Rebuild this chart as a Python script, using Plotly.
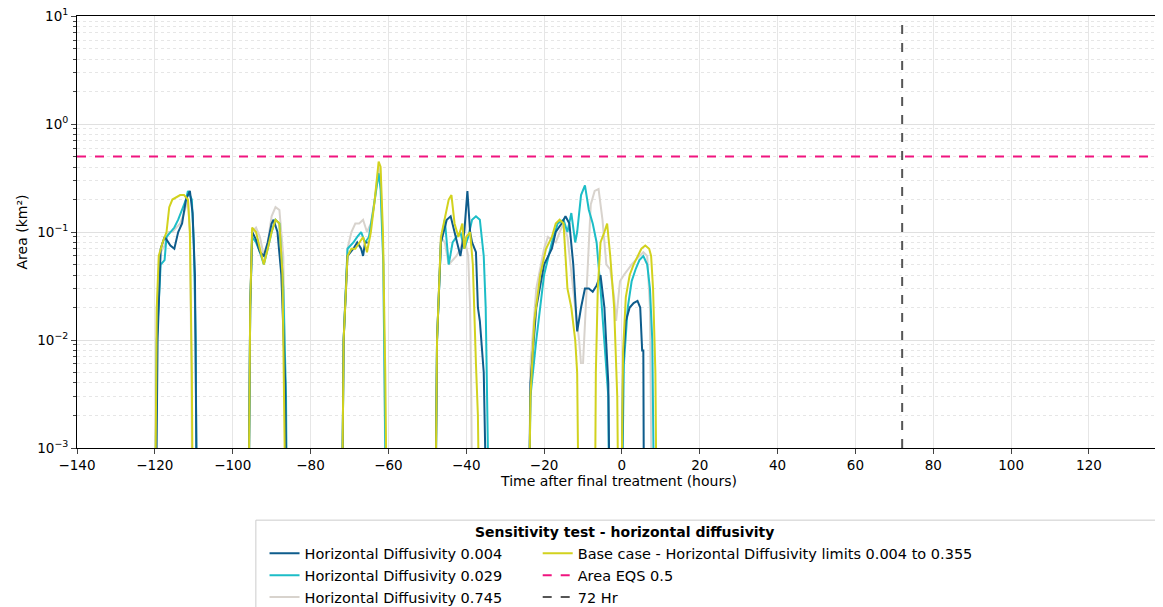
import plotly.graph_objects as go

LOW = 1e-4  # below the axis floor, so lines run off the bottom

# Horizontal diffusivity 0.004
t_004 = [-119.8, -119.3, -118.5, -117.5, -117, -116, -115, -114, -113, -112, -111, -110.3, -109.7, -109.4, -109.1, None,
         -96, -95.5, -95, -94, -93, -92, -91, -90, -89.5, -88.5, -87.5, -86.5, -86, None,
         -72, -71.5, -70.5, -69, -68, -67, -66.5, -66, -65.3, None,
         -48, -47.5, -46.5, -45, -44, -43, -42, -41.5, -40.5, -39.7, -39, -38.5, -37.5, -37, -36.5, -35.5, -34.6, None,
         -24, -23.5, -22, -20, -18, -17, -15.5, -14.5, -13.5, -12.5, -11.5, -10.5, -9.5, -8.5, -7.5, -6.5, -5.5, -4.5, -3.5, -3, None,
         -0.2, 0.3, 1, 2, 3, 4, 4.7, 5.2, 5.5, 5.7]
a_004 = [LOW, 0.01, 0.07, 0.09, 0.085, 0.075, 0.07, 0.1, 0.12, 0.2, 0.24, 0.15, 0.04, 0.005, LOW, None,
         LOW, 0.02, 0.1, 0.085, 0.065, 0.06, 0.08, 0.12, 0.13, 0.1, 0.04, 0.004, LOW, None,
         LOW, 0.01, 0.06, 0.07, 0.08, 0.07, 0.06, 0.08, 0.08, None,
         LOW, 0.01, 0.08, 0.13, 0.14, 0.1, 0.07, 0.06, 0.1, 0.24, 0.1, 0.08, 0.065, 0.02, 0.015, 0.005, LOW, None,
         LOW, 0.004, 0.02, 0.05, 0.07, 0.1, 0.12, 0.14, 0.12, 0.05, 0.012, 0.02, 0.03, 0.03, 0.028, 0.032, 0.04, 0.02, 0.004, LOW, None,
         LOW, 0.006, 0.015, 0.02, 0.022, 0.023, 0.02, 0.008, 0.008, LOW]

# Horizontal diffusivity 0.029
t_029 = [-120, -119.5, -118.5, -117.5, -117, -116, -115, -114, -113, -112, -111.5, -110.5, -110, -109.5, -109.2, None,
         -96, -95.5, -95, -94, -93, -92, -91, -90, -89, -88, -87, -86.3, -86, None,
         -72, -71.5, -70.5, -69, -68, -67, -66, -65, -64, -63, -62.5, -62, -61.3, -60.5, None,
         -48, -47.5, -46.5, -45.5, -44.5, -43.5, -42.5, -41.5, -40.5, -39.5, -38.5, -37.5, -36.5, -35.5, -35, -34.5, -34, None,
         -24, -23.5, -22, -20, -18, -16.5, -15, -14, -13, -12, -11.5, -10.5, -9.5, -8.5, -7.5, -6.5, -5.5, -4.5, -3.5, -3.2, None,
         -0.2, 0.5, 1.5, 2.5, 3.5, 4.5, 5.5, 6.5, 7.2, 7.8, 8.4]
a_029 = [LOW, 0.01, 0.05, 0.055, 0.09, 0.1, 0.11, 0.13, 0.16, 0.2, 0.24, 0.2, 0.08, 0.01, LOW, None,
         LOW, 0.02, 0.09, 0.08, 0.065, 0.05, 0.07, 0.1, 0.13, 0.12, 0.03, 0.003, LOW, None,
         LOW, 0.01, 0.07, 0.08, 0.09, 0.1, 0.08, 0.09, 0.15, 0.25, 0.35, 0.25, 0.05, LOW, None,
         LOW, 0.01, 0.08, 0.13, 0.05, 0.08, 0.09, 0.1, 0.07, 0.09, 0.13, 0.14, 0.13, 0.06, 0.02, 0.003, LOW, None,
         LOW, 0.003, 0.01, 0.04, 0.08, 0.12, 0.13, 0.1, 0.15, 0.08, 0.1, 0.22, 0.27, 0.16, 0.12, 0.08, 0.03, 0.01, 0.003, LOW, None,
         LOW, 0.006, 0.02, 0.035, 0.045, 0.055, 0.06, 0.05, 0.03, 0.01, LOW]

# Horizontal diffusivity 0.745
t_745 = [-120, -119.5, -118.5, -117.5, -116.5, -115.5, -114.5, -113.5, -112.5, -111.5, -111, -110.6, -110.3, None,
         -96, -95.5, -95, -94, -93, -92, -91, -90, -89, -88, -87, -86.3, -85.8, None,
         -72, -71.5, -70.5, -69.5, -68.5, -67.5, -66.5, -65.5, -64.5, -63.5, -62.5, -62, -61.3, -60.6, None,
         -48, -47.5, -46.5, -45.5, -44.5, -43.5, -42.5, -41.5, -40.5, -39.5, -39, -38.7, -38.4, None,
         -24, -23.5, -22, -20, -19, -18, -17, -16, -15, -14, -13, -12, -11, -10.5, None,
         -10, -9, -8, -7, -6, -5, -4, -3, -2, -1.5, -0.5, 0.5, 1.5, 2.5, 3.5, 4.5, 5.5, 6.5, 7.2, 7.8]
a_745 = [LOW, 0.02, 0.065, 0.075, 0.1, 0.1, 0.11, 0.12, 0.15, 0.2, 0.1, 0.005, LOW, None,
         LOW, 0.02, 0.1, 0.11, 0.09, 0.06, 0.08, 0.14, 0.17, 0.16, 0.06, 0.004, LOW, None,
         LOW, 0.01, 0.07, 0.1, 0.12, 0.12, 0.13, 0.1, 0.12, 0.2, 0.4, 0.3, 0.06, LOW, None,
         LOW, 0.01, 0.09, 0.08, 0.05, 0.055, 0.06, 0.07, 0.09, 0.06, 0.02, 0.003, LOW, None,
         LOW, 0.006, 0.03, 0.07, 0.09, 0.085, 0.08, 0.1, 0.12, 0.09, 0.04, 0.02, 0.01, 0.006, None,
         0.006, 0.03, 0.18, 0.24, 0.25, 0.13, 0.05, 0.045, 0.025, 0.015, 0.035, 0.04, 0.045, 0.05, 0.055, 0.06, 0.065, 0.06, 0.02, LOW]

# Base case - limits 0.004 to 0.355
t_base = [-120, -119.5, -119, -118, -117, -116.3, -115.5, -114.5, -113.5, -112.5, -111.5, -111, -110.5, -110.2, None,
          -96, -95.5, -95, -94, -93, -92, -91, -90, -89, -88, -87.2, -86.6, -86.3, None,
          -72, -71.5, -70.5, -69.5, -68.5, -67.5, -66.5, -65.5, -64.5, -63.5, -62.5, -62, -61.4, -60.8, -60.3, None,
          -48, -47.5, -46.5, -45.5, -44.5, -43.8, -43, -42, -41, -40.5, -40, -39, -38.3, -37.5, -37, -36.5, -36.1, None,
          -24, -23.5, -22.5, -21, -19.5, -18, -17, -16, -15, -14, -13, -12, -11.5, -11, None,
          -7, -6.7, -6.2, -5.5, -4.5, -3.8, -3, -2, -1.2, -0.8, None,
          -0.3, 0.3, 1, 2, 3, 4, 5, 6, 7, 7.5, 8, 8.6, 9]
a_base = [LOW, 0.02, 0.06, 0.08, 0.1, 0.17, 0.2, 0.21, 0.22, 0.22, 0.2, 0.1, 0.005, LOW, None,
          LOW, 0.02, 0.11, 0.1, 0.07, 0.05, 0.07, 0.1, 0.13, 0.12, 0.04, 0.003, LOW, None,
          LOW, 0.01, 0.06, 0.07, 0.07, 0.08, 0.09, 0.065, 0.1, 0.2, 0.45, 0.4, 0.1, 0.005, LOW, None,
          LOW, 0.01, 0.09, 0.14, 0.2, 0.22, 0.12, 0.09, 0.12, 0.07, 0.09, 0.1, 0.05, 0.006, 0.002, LOW, LOW, None,
          LOW, 0.003, 0.015, 0.04, 0.07, 0.09, 0.12, 0.13, 0.12, 0.03, 0.02, 0.01, 0.005, LOW, None,
          LOW, 0.005, 0.03, 0.08, 0.1, 0.12, 0.06, 0.02, 0.003, LOW, None,
          LOW, 0.008, 0.025, 0.04, 0.05, 0.06, 0.07, 0.075, 0.07, 0.06, 0.03, 0.005, LOW]

x_range = [-140, 138.5]
eqs_level = 0.5
hr_72 = 72
y_tickvals = [1e-3, 1e-2, 1e-1, 1, 10]
y_ticktext = ['10<sup>−3</sup>', '10<sup>−2</sup>', '10<sup>−1</sup>', '10<sup>0</sup>', '10<sup>1</sup>']
y_minor = [m * d for d in [1e-3, 1e-2, 1e-1, 1] for m in range(2, 10)]

fig = go.Figure()
# draw order: grey, teal, dark blue, yellow on top
fig.add_trace(go.Scatter(x=t_745, y=a_745, mode='lines', name='Horizontal Diffusivity 0.745',
                         legend='legend', legendrank=3, line=dict(color='#d8d3cd', width=2)))
fig.add_trace(go.Scatter(x=t_029, y=a_029, mode='lines', name='Horizontal Diffusivity 0.029',
                         legend='legend', legendrank=2, line=dict(color='#1cbdc7', width=2)))
fig.add_trace(go.Scatter(x=t_004, y=a_004, mode='lines', name='Horizontal Diffusivity 0.004',
                         legend='legend', legendrank=1, line=dict(color='#0e5c8c', width=2)))
fig.add_trace(go.Scatter(x=t_base, y=a_base, mode='lines',
                         name='Base case - Horizontal Diffusivity limits 0.004 to 0.355',
                         legend='legend2', legendrank=1, line=dict(color='#d2d21e', width=2)))
fig.add_trace(go.Scatter(x=x_range, y=[eqs_level, eqs_level], mode='lines', name='Area EQS 0.5',
                         legend='legend2', legendrank=2, line=dict(color='#f0147f', width=2, dash='dash')))
fig.add_trace(go.Scatter(x=[hr_72, hr_72], y=[1e-3, 10], mode='lines', name='72 Hr',
                         legend='legend2', legendrank=3, line=dict(color='#555555', width=2, dash='dash')))

leg = dict(yanchor='top', y=-0.207, bgcolor='rgba(0,0,0,0)', font=dict(size=14.5), tracegroupgap=0)
fig.update_layout(
    width=1163, height=607,
    margin=dict(l=69, r=10, t=8, b=167, autoexpand=False),
    plot_bgcolor='white', paper_bgcolor='white',
    font=dict(family='DejaVu Sans', size=13.5, color='black'),
    legend=dict(x=0.173, xanchor='left', **leg),
    legend2=dict(x=0.425, xanchor='left', **leg),
    shapes=[dict(type='rect', xref='paper', yref='paper', x0=0.165, x1=0.997, y0=-0.167, y1=-0.4,
                 line=dict(color='#cccccc', width=1), layer='below')],
    annotations=[dict(text='<b>Sensitivity test - horizontal diffusivity</b>', xref='paper', yref='paper',
                      x=0.505, y=-0.195, xanchor='center', yanchor='middle', showarrow=False,
                      font=dict(size=14))],
)
fig.update_xaxes(
    range=x_range, dtick=20, tick0=0, showline=True, linecolor='black', mirror=True,
    ticks='outside', showgrid=True, gridcolor='#e6e6e6', zeroline=False,
    title=dict(text='Time after final treatment (hours)', standoff=2, font=dict(size=14)),
)
fig.update_yaxes(
    type='log', range=[-3, 1.0005], tickvals=y_tickvals, ticktext=y_ticktext, showline=True,
    linecolor='black', mirror=True, ticks='outside', showgrid=True, gridcolor='#e0e0e0',
    ticklabeloverflow='allow',
    minor=dict(tickvals=y_minor, showgrid=True, gridcolor='#e6e6e6', griddash='dot', ticks='outside', ticklen=3),
    title=dict(text='Area (km²)', standoff=6, font=dict(size=14)), zeroline=False,
)

fig.write_html('out.html')
